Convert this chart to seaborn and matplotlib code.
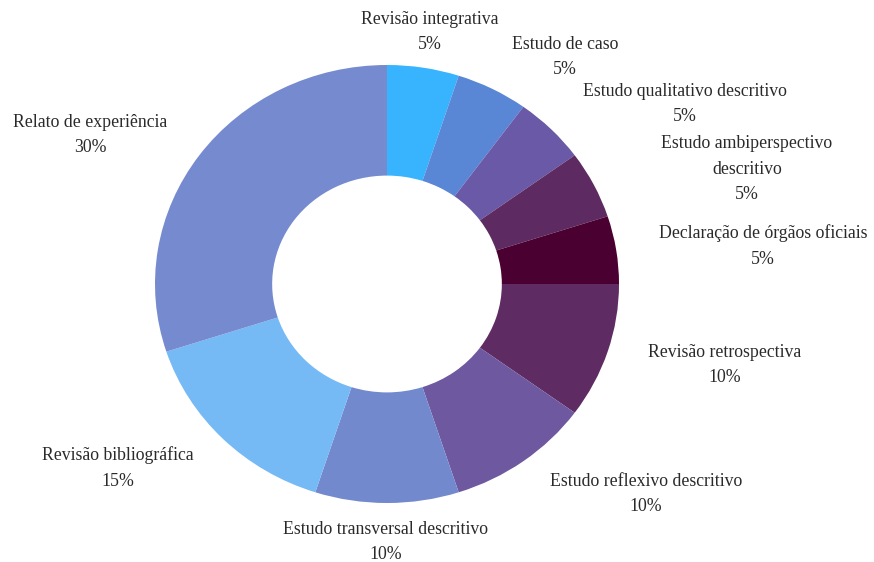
import matplotlib
matplotlib.use("Agg")
import matplotlib.pyplot as plt
import seaborn as sns

sns.set_theme(style="white")
plt.rcParams["font.family"] = ["Liberation Serif", "DejaVu Serif"]

categories = [
    "Revisão integrativa",
    "Estudo de caso",
    "Estudo qualitativo descritivo",
    "Estudo ambiperspectivo\ndescritivo",
    "Declaração de órgãos oficiais",
    "Revisão retrospectiva",
    "Estudo reflexivo descritivo",
    "Estudo transversal descritivo",
    "Revisão bibliográfica",
    "Relato de experiência",
]
values = [5, 5, 5, 5, 5, 10, 10, 10, 15, 30]
colors = [
    "#38B4FE", "#5A86D6", "#6A59A6", "#5E2A62", "#4A0030",
    "#5E2B63", "#6E589F", "#7289CE", "#75B9F5", "#768BCF",
]
# label anchor points in pixel space (x, y from top-left)
label_px = [
    (430, 32), (565, 57), (685, 104), (747, 169), (763, 246),
    (725, 365), (646, 494), (386, 542), (118, 468), (90, 135),
]

W, H = 874, 562
cx, cy = 387, 284
rx, ry = 232, 219

fig = plt.figure(figsize=(W / 100, H / 100), dpi=100)
ax = fig.add_axes([0, 0, 1, 1])

ax.pie(
    values,
    colors=colors,
    startangle=90,
    counterclock=False,
    radius=1.0,
    wedgeprops=dict(width=0.505, linewidth=0),
)
ax.set_aspect("auto")
ax.set_xlim(-cx / rx, (W - cx) / rx)
ax.set_ylim(-(H - cy) / ry, cy / ry)
ax.axis("off")

def to_data(px, py):
    return (px - cx) / rx, (cy - py) / ry

for name, val, (px, py) in zip(categories, values, label_px):
    x, y = to_data(px, py)
    ax.text(
        x, y, f"{name}\n{val}%",
        ha="center", va="center", fontsize=12.8, color="#2a2a2a",
        linespacing=1.65,
    )

fig.savefig("out.png", dpi=100, facecolor="white")
